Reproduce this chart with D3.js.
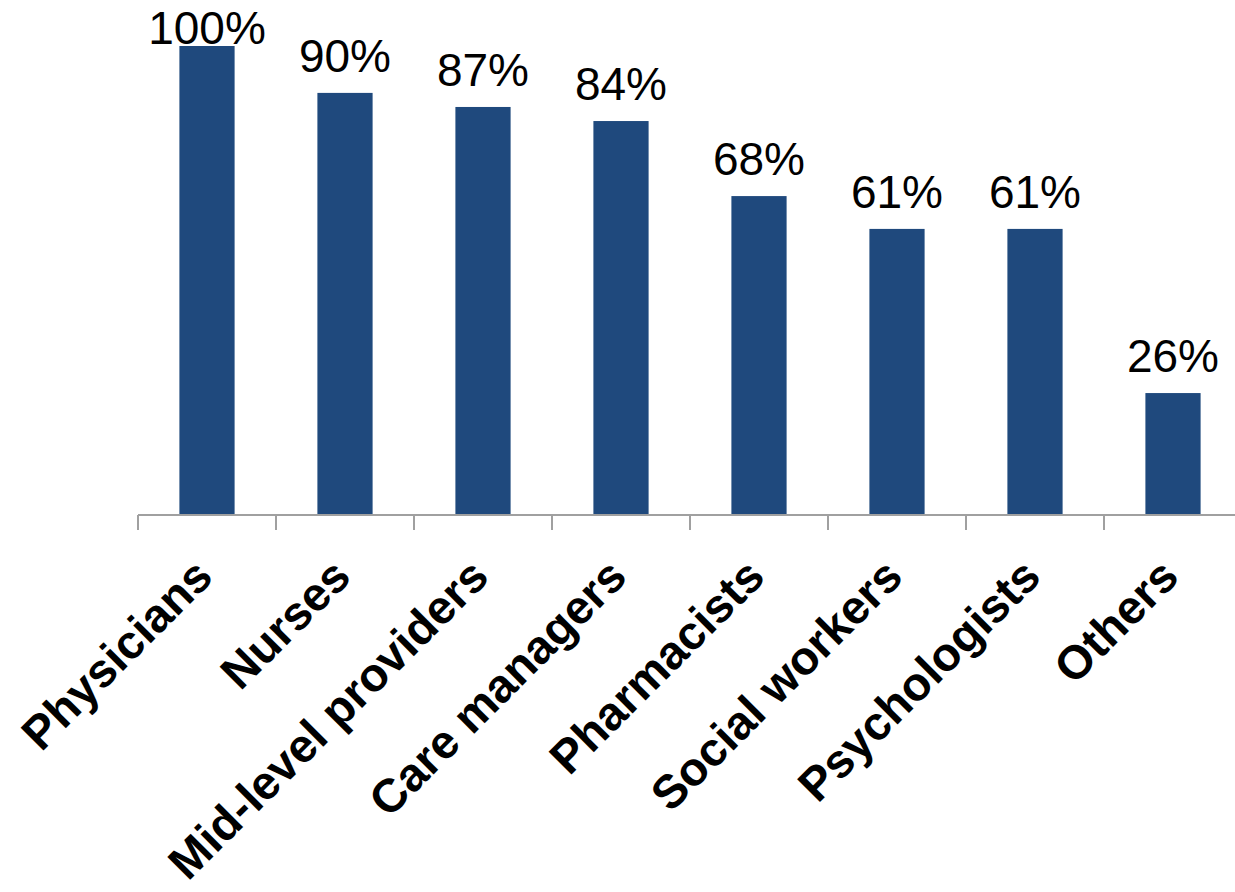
<!DOCTYPE html>
<html>
<head>
<meta charset="utf-8">
<script src="https://cdn.jsdelivr.net/npm/d3@7/dist/d3.min.js"></script>
<style>
  html, body { margin: 0; padding: 0; background: #fff; }
  svg { display: block; }
</style>
</head>
<body>
<script>
// Share of respondents by role
const categories = ["Physicians", "Nurses", "Mid-level providers", "Care managers",
                    "Pharmacists", "Social workers", "Psychologists", "Others"];
const values = [100, 90, 87, 84, 68, 61, 61, 26];

const W = 1235, H = 892;
const svg = d3.select("body").append("svg").attr("width", W).attr("height", H);

const x = d3.scaleBand().domain(categories).range([138, 1242])
  .paddingInner(0.6).paddingOuter(0.3);
const y = d3.scaleLinear().domain([0, 100]).range([515, 46]);

const barColor = "#1f497d";
const axisColor = "#a0a0a0";

// bars
svg.append("g").selectAll("rect").data(values).join("rect")
  .attr("x", (d, i) => x(categories[i]))
  .attr("y", d => y(d))
  .attr("width", x.bandwidth())
  .attr("height", d => y(0) - y(d))
  .attr("fill", barColor);

// value labels
svg.append("g").selectAll("text").data(values).join("text")
  .attr("x", (d, i) => x(categories[i]) + x.bandwidth() / 2)
  .attr("y", d => Math.max(y(d) - 21, 44))
  .attr("text-anchor", "middle")
  .attr("font-family", "Liberation Sans, Arial, sans-serif")
  .attr("font-size", 46)
  .attr("fill", "#000")
  .text(d => d + "%");

// category axis: baseline plus tick marks between categories
const ax = svg.append("g");
ax.append("line")
  .attr("x1", 138).attr("x2", W)
  .attr("y1", y(0)).attr("y2", y(0))
  .attr("stroke", axisColor).attr("stroke-width", 2);
const gap = (x.step() - x.bandwidth()) / 2;
const tickXs = categories.map(c => x(c) - gap).concat([x(categories[categories.length - 1]) + x.bandwidth() + gap]);
ax.selectAll("line.tick").data(tickXs).join("line")
  .attr("class", "tick")
  .attr("x1", d => d).attr("x2", d => d)
  .attr("y1", y(0)).attr("y2", y(0) + 15)
  .attr("stroke", axisColor).attr("stroke-width", 2);

// rotated category labels
svg.append("g").selectAll("text").data(categories).join("text")
  .attr("transform", d => `translate(${x(d) + x.bandwidth() / 2 + 8},579) rotate(-45)`)
  .attr("text-anchor", "end")
  .attr("font-family", "Liberation Sans, Arial, sans-serif")
  .attr("font-weight", "bold")
  .attr("font-size", 47)
  .attr("fill", "#000")
  .text(d => d);
</script>
</body>
</html>
